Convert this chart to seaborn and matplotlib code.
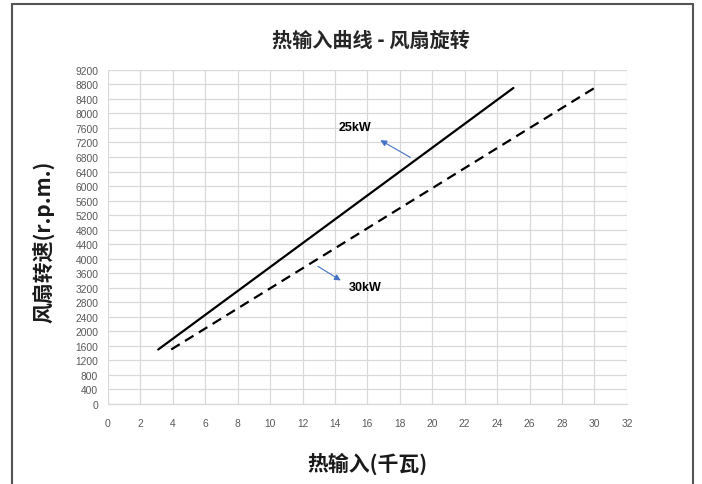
import matplotlib
matplotlib.use("Agg")
import matplotlib.pyplot as plt
from matplotlib.lines import Line2D
import pandas as pd
import seaborn as sns

# Heat input (kW) vs. fan speed (r.p.m.) for the two burner ratings
series = ["25kW", "30kW"]
heat_25 = [3.1, 25.0]
speed_25 = [1500, 8700]
heat_30 = [3.9, 30.0]
speed_30 = [1500, 8700]

x_ticks = list(range(0, 33, 2))
y_ticks = list(range(0, 9201, 400))

title = "热输入曲线 - 风扇旋转"
x_label = "热输入(千瓦)"
y_label = "风扇转速(r.p.m.)"

df = pd.DataFrame({
    "heat": heat_25 + heat_30,
    "speed": speed_25 + speed_30,
    "rating": [series[0]] * len(heat_25) + [series[1]] * len(heat_30),
})

sns.set_theme(style="whitegrid")
plt.rcParams["font.family"] = ["Noto Sans CJK SC", "DejaVu Sans"]

fig = plt.figure(figsize=(7.02, 4.85), dpi=100)
ax = fig.add_axes([0.1538, 0.165, 0.893 - 0.1538, 0.854 - 0.165])

sns.lineplot(
    data=df, x="heat", y="speed", style="rating", hue="rating",
    palette={series[0]: "black", series[1]: "black"},
    dashes={series[0]: "", series[1]: (4.5, 2.8)},
    linewidth=1.6, legend=False, ax=ax,
)

ax.set_xlim(0, 32)
ax.set_ylim(0, 9200)
ax.set_xticks(x_ticks)
ax.set_yticks(y_ticks)
ax.set_xticklabels([str(v) for v in x_ticks])
ax.set_yticklabels([str(v) for v in y_ticks])
ax.tick_params(axis="both", labelsize=7.4, colors="#595959", length=0)
ax.tick_params(axis="x", pad=10)
ax.tick_params(axis="y", pad=7)
for lab in ax.get_xticklabels() + ax.get_yticklabels():
    lab.set_fontfamily(["Liberation Sans", "DejaVu Sans"])
ax.grid(True, color="#d9d9d9", linewidth=0.9)
for side in ["top", "right", "left"]:
    ax.spines[side].set_visible(False)
ax.spines["bottom"].set_color("#d9d9d9")
ax.spines["bottom"].set_linewidth(0.9)
ax.set_xlabel("")
ax.set_ylabel("")

# Series callouts
arrow_style = dict(arrowstyle="-|>", color="#4472C4", lw=0.8, mutation_scale=9)
ax.annotate("", xy=(16.65, 7300), xytext=(18.8, 6750), arrowprops=arrow_style)
ax.text(15.2, 7630, series[0], ha="center", va="center", fontsize=9,
        fontweight="bold", family=["Liberation Sans", "DejaVu Sans"], color="#000000")
ax.annotate("", xy=(14.5, 3360), xytext=(12.8, 3830), arrowprops=arrow_style)
ax.text(15.85, 3220, series[1], ha="center", va="center", fontsize=9,
        fontweight="bold", family=["Liberation Sans", "DejaVu Sans"], color="#000000")

# Titles
fig.text(371 / 702, 1 - 40 / 485, title, ha="center", va="center",
         fontsize=14.5, fontweight="bold", color="#262626")
fig.text(367.5 / 702, 1 - 464 / 485, x_label, ha="center", va="center",
         fontsize=15, fontweight="bold", color="#1a1a1a")
fig.text(43 / 702, 1 - 242 / 485, y_label, ha="center", va="center",
         rotation=90, fontsize=15, fontweight="bold", color="#1a1a1a")

# Outer chart frame (open at the bottom edge)
frame_kw = dict(color="#555555", linewidth=1.5, transform=fig.transFigure)
x0, x1 = 11.5 / 702, 692.5 / 702
y_top = 1 - 4.5 / 485
fig.add_artist(Line2D([x0, x1], [y_top, y_top], **frame_kw))
fig.add_artist(Line2D([x0, x0], [y_top, 0], **frame_kw))
fig.add_artist(Line2D([x1, x1], [y_top, 0], **frame_kw))

fig.savefig("out.png", dpi=100, facecolor="white")
